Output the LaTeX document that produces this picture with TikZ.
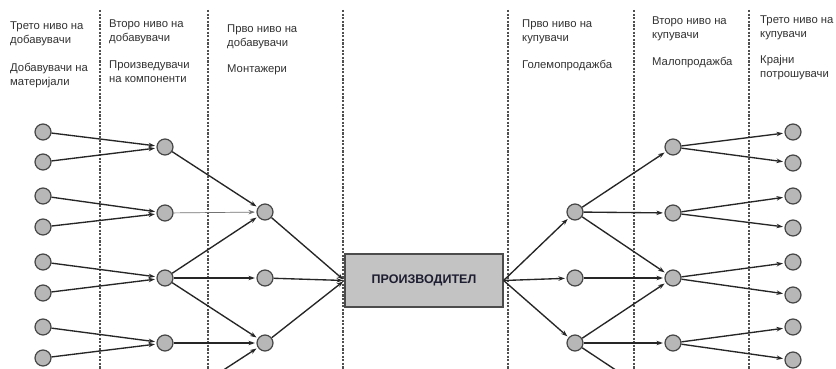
\documentclass[tikz,border=0pt]{standalone}
\usepackage{fontspec}
\setmainfont{Liberation Sans}
\usetikzlibrary{arrows.meta}
\definecolor{nodefill}{RGB}{183,183,183}
\definecolor{nodeline}{RGB}{70,70,70}
\definecolor{boxfill}{RGB}{195,195,195}
\definecolor{sepline}{RGB}{80,80,80}
\definecolor{txt}{RGB}{50,50,50}
\definecolor{boxtxt}{RGB}{30,30,50}
\tikzset{
  firm/.style={circle, draw=nodeline, fill=nodefill, line width=1.2pt, minimum size=16pt, inner sep=0pt},
  flow/.style={-{Stealth[length=6.5pt,width=4.5pt]}, line width=1.35pt, draw=black!85, shorten >=1.5pt},
  thinflow/.style={flow, line width=0.7pt, draw=black!55},
  sep/.style={draw=sepline, line width=1.2pt, dash pattern=on 2.2pt off 1.4pt},
  lbl/.style={anchor=north west, align=left, inner sep=0pt, text=txt,
    font=\fontsize{11.3}{14}\selectfont},
  prodbox/.style={draw=black!70, fill=boxfill, line width=1.2pt, minimum width=158pt,
    minimum height=53pt, font=\bfseries\fontsize{12.5}{14}\selectfont, text=boxtxt}
}
\begin{document}
\begin{tikzpicture}[x=1pt, y=-1pt]
\useasboundingbox (0,0) rectangle (836,369);
\clip (0,0) rectangle (836,369);
\fill[white] (0,0) rectangle (836,369);

% column separators
\foreach \sx in {100,208,343,508,634,749}
  \draw[sep] (\sx,10) -- (\sx,369);

% column headings
\node[lbl] (h1) at (10,22) {Трето ниво на\\добавувачи\\[14pt]Добавувачи на\\материјали};
\node[lbl] (h2) at (109,20) {Второ ниво на\\добавувачи\\[13pt]Произведувачи\\на компоненти};
\node[lbl] (h3) at (227,25) {Прво ниво на\\добавувачи\\[12pt]Монтажери};
\node[lbl] (h4) at (522,20) {Прво ниво на\\купувачи\\[13pt]Големопродажба};
\node[lbl] (h5) at (652,17) {Второ ниво на\\купувачи\\[13pt]Малопродажба};
\node[lbl] (h6) at (760,16) {Трето ниво на\\купувачи\\[12pt]Крајни\\потрошувачи};

% supplier tiers
\foreach \i/\yy in {1/132,2/162,3/196,4/227,5/262,6/293,7/327,8/358}
  \node[firm] (a\i) at (43,\yy) {};
\foreach \i/\yy in {1/147,2/213,3/278,4/343}
  \node[firm] (b\i) at (165,\yy) {};
\coordinate (b5) at (165,408);
\foreach \i/\yy in {1/212,2/278,3/343}
  \node[firm] (c\i) at (265,\yy) {};

% manufacturer
\node[prodbox] (prod) at (424,280.5) {ПРОИЗВОДИТЕЛ};

% customer tiers
\foreach \i/\yy in {1/212,2/278,3/343}
  \node[firm] (d\i) at (575,\yy) {};
\foreach \i/\yy in {1/147,2/213,3/278,4/343}
  \node[firm] (e\i) at (673,\yy) {};
\coordinate (e5) at (673,408);
\foreach \i/\yy in {1/132,2/163,3/196,4/228,5/262,6/295,7/327,8/360}
  \node[firm] (f\i) at (793,\yy) {};

% flows on the supply side
\foreach \s/\t in {a1/b1,a2/b1,a3/b2,a4/b2,a5/b3,a6/b3,a7/b4,a8/b4}
  \draw[flow] (\s) -- (\t);
\foreach \s/\t in {b1/c1,b3/c1,b3/c2,b3/c3,b4/c3,b5/c3}
  \draw[flow] (\s) -- (\t);
\draw[thinflow] (b2) -- (c1);
\foreach \s in {c1,c2,c3}
  \draw[flow] (\s) -- (prod.west);

% flows on the customer side
\foreach \t in {d1,d2,d3}
  \draw[flow] (prod.east) -- (\t);
\foreach \s/\t in {d1/e1,d1/e2,d1/e3,d2/e3,d3/e3,d3/e4,d3/e5}
  \draw[flow] (\s) -- (\t);
\foreach \s/\t in {e1/f1,e1/f2,e2/f3,e2/f4,e3/f5,e3/f6,e4/f7,e4/f8}
  \draw[flow] (\s) -- (\t);
\end{tikzpicture}
\end{document}
